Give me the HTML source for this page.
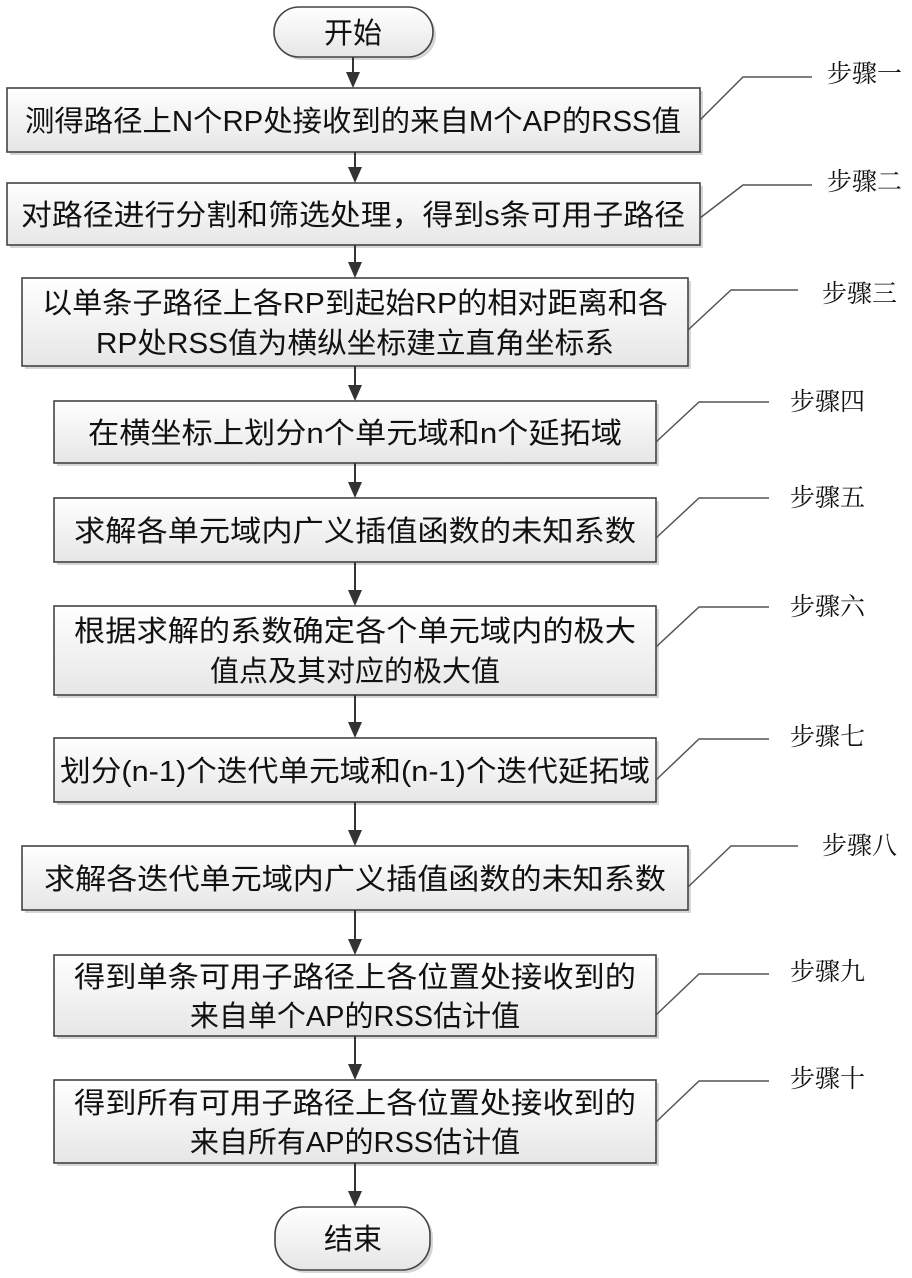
<!DOCTYPE html>
<html><head><meta charset="utf-8"><style>
body{margin:0;background:#fff}
svg{display:block}
.t{font-family:"Liberation Sans","Noto Sans CJK SC",sans-serif;font-size:29px;fill:#111;text-anchor:middle}
.l{font-family:"Liberation Serif","Noto Serif CJK SC",serif;font-size:25px;fill:#111}
.b{fill:url(#g);stroke:#444;stroke-width:1.6}
.s{fill:#bbb;opacity:.6}
.a{stroke:#333;stroke-width:2}
.ld{fill:none;stroke:#555;stroke-width:1.5}
</style></head><body>
<svg width="912" height="1278" viewBox="0 0 912 1278" xmlns="http://www.w3.org/2000/svg">
<defs>
<linearGradient id="g" x1="0" y1="0" x2="0" y2="1"><stop offset="0" stop-color="#ffffff"/><stop offset="1" stop-color="#e6e6e6"/></linearGradient>
</defs>
<!-- shapes -->
<rect class="s" x="277" y="10" width="159" height="50" rx="25"/>
<rect class="b" x="274" y="7" width="159" height="50" rx="25"/>
<text class="t" x="353" y="43">开始</text>

<rect class="s" x="10" y="91" width="693" height="64"/>
<rect class="b" x="7" y="88" width="693" height="64"/>
<text class="t" x="353" y="131" textLength="656" lengthAdjust="spacingAndGlyphs">测得路径上N个RP处接收到的来自M个AP的RSS值</text>

<rect class="s" x="10" y="186" width="693" height="62"/>
<rect class="b" x="7" y="183" width="693" height="62"/>
<text class="t" x="353" y="225" textLength="664" lengthAdjust="spacingAndGlyphs">对路径进行分割和筛选处理，得到s条可用子路径</text>

<rect class="s" x="25" y="281" width="666" height="88"/>
<rect class="b" x="22" y="278" width="666" height="88"/>
<text class="t" x="355" y="313" textLength="626" lengthAdjust="spacingAndGlyphs">以单条子路径上各RP到起始RP的相对距离和各</text>
<text class="t" x="355" y="353" textLength="518" lengthAdjust="spacingAndGlyphs">RP处RSS值为横纵坐标建立直角坐标系</text>

<rect class="s" x="57" y="404" width="602" height="62"/>
<rect class="b" x="54" y="401" width="602" height="62"/>
<text class="t" x="355" y="443" textLength="534" lengthAdjust="spacingAndGlyphs">在横坐标上划分n个单元域和n个延拓域</text>

<rect class="s" x="57" y="501" width="602" height="64"/>
<rect class="b" x="54" y="498" width="602" height="64"/>
<text class="t" x="355" y="541" textLength="562" lengthAdjust="spacingAndGlyphs">求解各单元域内广义插值函数的未知系数</text>

<rect class="s" x="57" y="609" width="602" height="89"/>
<rect class="b" x="54" y="606" width="602" height="89"/>
<text class="t" x="355" y="641" textLength="562" lengthAdjust="spacingAndGlyphs">根据求解的系数确定各个单元域内的极大</text>
<text class="t" x="355" y="681">值点及其对应的极大值</text>

<rect class="s" x="57" y="741" width="602" height="64"/>
<rect class="b" x="54" y="738" width="602" height="64"/>
<text class="t" x="355" y="781" textLength="590" lengthAdjust="spacingAndGlyphs">划分(n-1)个迭代单元域和(n-1)个迭代延拓域</text>

<rect class="s" x="25" y="849" width="666" height="64"/>
<rect class="b" x="22" y="846" width="666" height="64"/>
<text class="t" x="355" y="889" textLength="622" lengthAdjust="spacingAndGlyphs">求解各迭代单元域内广义插值函数的未知系数</text>

<rect class="s" x="57" y="958" width="602" height="81"/>
<rect class="b" x="54" y="955" width="602" height="81"/>
<text class="t" x="355" y="987" textLength="562" lengthAdjust="spacingAndGlyphs">得到单条可用子路径上各位置处接收到的</text>
<text class="t" x="355" y="1026">来自单个AP的RSS估计值</text>

<rect class="s" x="57" y="1083" width="602" height="83"/>
<rect class="b" x="54" y="1080" width="602" height="83"/>
<text class="t" x="355" y="1113" textLength="562" lengthAdjust="spacingAndGlyphs">得到所有可用子路径上各位置处接收到的</text>
<text class="t" x="355" y="1152">来自所有AP的RSS估计值</text>

<rect class="s" x="278" y="1210" width="155" height="63" rx="28"/>
<rect class="b" x="275" y="1207" width="155" height="63" rx="28"/>
<text class="t" x="353" y="1249">结束</text>

<!-- connectors -->
<g class="a">
<line x1="353" y1="57" x2="353" y2="74"/>
<line x1="355" y1="152" x2="355" y2="169"/>
<line x1="355" y1="245" x2="355" y2="264"/>
<line x1="355" y1="366" x2="355" y2="387"/>
<line x1="355" y1="463" x2="355" y2="484"/>
<line x1="355" y1="562" x2="355" y2="592"/>
<line x1="355" y1="695" x2="355" y2="724"/>
<line x1="355" y1="802" x2="355" y2="832"/>
<line x1="355" y1="910" x2="355" y2="941"/>
<line x1="355" y1="1036" x2="355" y2="1066"/>
<line x1="355" y1="1163" x2="355" y2="1193"/>
</g>
<g fill="#333">
<polygon points="346,72 360,72 353,88"/>
<polygon points="348,167 362,167 355,183"/>
<polygon points="348,262 362,262 355,278"/>
<polygon points="348,385 362,385 355,401"/>
<polygon points="348,482 362,482 355,498"/>
<polygon points="348,590 362,590 355,606"/>
<polygon points="348,722 362,722 355,738"/>
<polygon points="348,830 362,830 355,846"/>
<polygon points="348,939 362,939 355,955"/>
<polygon points="348,1064 362,1064 355,1080"/>
<polygon points="348,1191 362,1191 355,1207"/>
</g>

<!-- leaders -->
<polyline class="ld" points="700,120 743,77 812,77"/>
<text class="l" x="827" y="82">步骤一</text>
<polyline class="ld" points="700,218 743,185 812,185"/>
<text class="l" x="827" y="190">步骤二</text>
<polyline class="ld" points="688,330 731,290 798,290"/>
<text class="l" x="822" y="302">步骤三</text>
<polyline class="ld" points="656,442 699,402 769,402"/>
<text class="l" x="790" y="410">步骤四</text>
<polyline class="ld" points="656,538 699,498 769,498"/>
<text class="l" x="790" y="506">步骤五</text>
<polyline class="ld" points="656,647 699,607 769,607"/>
<text class="l" x="790" y="615">步骤六</text>
<polyline class="ld" points="656,780 699,739 769,739"/>
<text class="l" x="790" y="745">步骤七</text>
<polyline class="ld" points="688,887 731,846 798,846"/>
<text class="l" x="822" y="854">步骤八</text>
<polyline class="ld" points="656,1015 699,974 769,974"/>
<text class="l" x="790" y="980">步骤九</text>
<polyline class="ld" points="656,1122 699,1081 769,1081"/>
<text class="l" x="790" y="1087">步骤十</text>
</svg>
</body></html>
